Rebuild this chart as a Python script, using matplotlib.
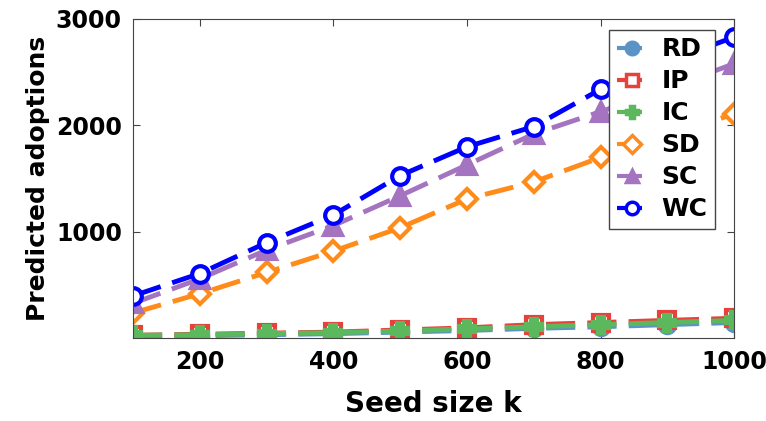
import matplotlib.pyplot as plt
from matplotlib.legend_handler import HandlerLine2D

k = [100, 200, 300, 400, 500, 600, 700, 800, 900, 1000]
rd = [20, 25, 35, 45, 60, 75, 95, 110, 130, 150]
ip = [30, 40, 50, 60, 80, 100, 130, 150, 170, 190]
ic = [30, 35, 45, 55, 70, 90, 110, 130, 150, 170]
sd = [240, 420, 620, 820, 1040, 1310, 1470, 1700, 1900, 2110]
sc = [330, 560, 830, 1060, 1340, 1630, 1920, 2130, 2350, 2580]
wc = [400, 610, 900, 1160, 1530, 1800, 1990, 2340, 2600, 2830]

plt.rcParams['font.family'] = ['DejaVu Sans']
plt.rcParams['font.weight'] = 'bold'


class MarkerRight(HandlerLine2D):
    # legend marker sits at the right end of the short line
    def get_xdata(self, legend, xdescent, ydescent, width, height, fontsize):
        xdata, _ = super().get_xdata(legend, xdescent, ydescent, width, height, fontsize)
        return xdata, [xdata[-1] - 4]


fig = plt.figure(figsize=(7.66, 4.21), dpi=100)
ax = fig.add_axes([0.1736, 0.196, 0.785, 0.759])

series = [
    ("RD", rd, "#5b93c7", "o", "#5b93c7", 11),
    ("IP", ip, "#e8413c", "s", "white", 11),
    ("IC", ic, "#5cb85c", "P", "#5cb85c", 12),
    ("SD", sd, "#ff8c1a", "D", "white", 10),
    ("SC", sc, "#a474c0", "^", "#a474c0", 13),
    ("WC", wc, "#0000ff", "o", "white", 12),
]
for name, vals, color, marker, mfc, ms in series:
    ax.plot(k, vals, linestyle=(0, (6, 2.5)), linewidth=3.5, color=color,
            marker=marker, markersize=ms, markerfacecolor=mfc,
            markeredgecolor=color, markeredgewidth=3, label=name)

ax.set_xlim(100, 1000)
ax.set_ylim(0, 3000)
ax.set_xticks([200, 400, 600, 800, 1000])
ax.set_yticks([1000, 2000, 3000])
ax.tick_params(direction="in", top=True, right=True, labelsize=17, length=5,
               color="#444444", pad=8)
for lab in ax.get_xticklabels() + ax.get_yticklabels():
    lab.set_fontweight("bold")
for s in ax.spines.values():
    s.set_color("#444444")

ax.set_xlabel("Seed size k", fontsize=20, fontweight="bold", labelpad=12)
ax.set_ylabel("Predicted adoptions", fontsize=18, fontweight="bold", labelpad=4)

leg = ax.legend(loc="upper right", bbox_to_anchor=(0.968, 0.966), fontsize=18,
                handlelength=1.2, handletextpad=0.6, labelspacing=0.32,
                borderpad=0.3, borderaxespad=0, fancybox=False,
                edgecolor="#444444", framealpha=1,
                handler_map={plt.Line2D: MarkerRight()})
for t in leg.get_texts():
    t.set_fontweight("bold")
for h in leg.legend_handles:
    h.set_linewidth(3)
    h.set_markersize(9)
    h.set_markeredgewidth(2.5)

fig.savefig("out.png", dpi=100)
